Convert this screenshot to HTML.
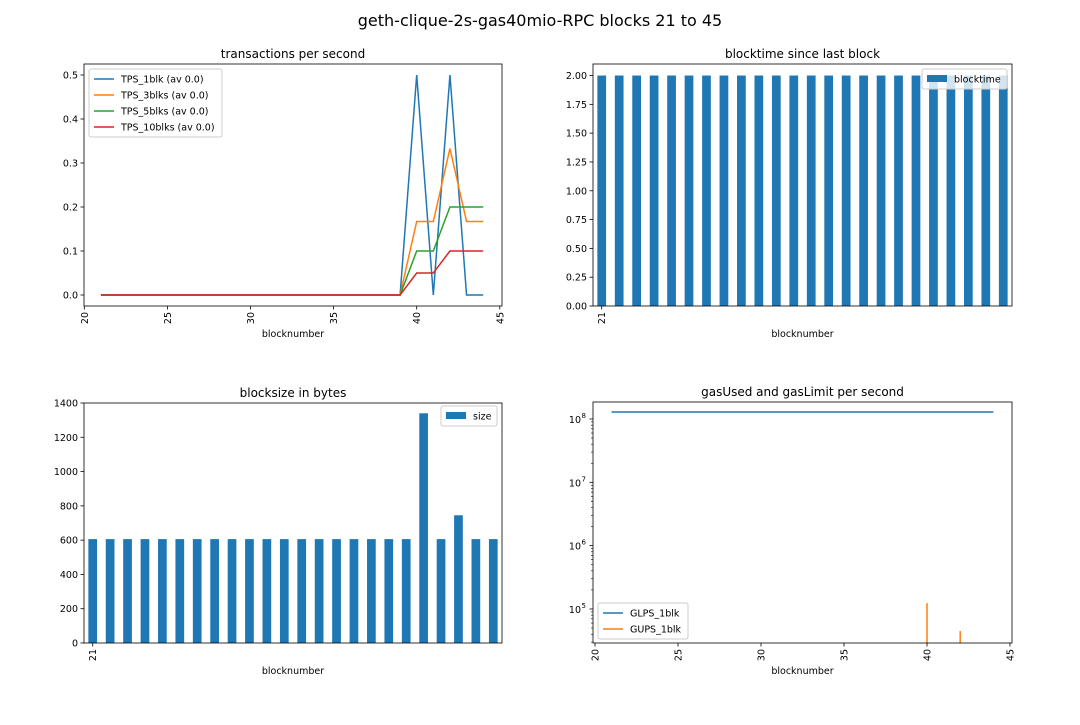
<!DOCTYPE html>
<html><head><meta charset="utf-8"><style>
body{margin:0;background:#fff;font-family:"Liberation Sans","DejaVu Sans",sans-serif}
svg text{font-family:"DejaVu Sans","Liberation Sans",sans-serif;fill:#000}
</style></head><body>
<svg id="fig" width="1080" height="720" xmlns="http://www.w3.org/2000/svg">
<rect width="1080" height="720" fill="#fff"/>
<text x="540" y="26" font-size="16" text-anchor="middle">geth-clique-2s-gas40mio-RPC blocks 21 to 45</text>
</svg>
<script>
const blocks=[21,22,23,24,25,26,27,28,29,30,31,32,33,34,35,36,37,38,39,40,41,42,43,44];
const tps1=[0,0,0,0,0,0,0,0,0,0,0,0,0,0,0,0,0,0,0,0.5,0,0.5,0,0];
const tps3=[0,0,0,0,0,0,0,0,0,0,0,0,0,0,0,0,0,0,0,0.167,0.167,0.333,0.167,0.167];
const tps5=[0,0,0,0,0,0,0,0,0,0,0,0,0,0,0,0,0,0,0,0.1,0.1,0.2,0.2,0.2];
const tps10=[0,0,0,0,0,0,0,0,0,0,0,0,0,0,0,0,0,0,0,0.05,0.05,0.1,0.1,0.1];
const blocktime=[2,2,2,2,2,2,2,2,2,2,2,2,2,2,2,2,2,2,2,2,2,2,2,2];
const sizes=[606,606,606,606,606,606,606,606,606,606,606,606,606,606,606,606,606,606,606,1340,606,745,606,606];
const glps=[1.29e8,1.29e8,1.29e8,1.29e8,1.29e8,1.29e8,1.29e8,1.29e8,1.29e8,1.29e8,1.29e8,1.29e8,1.29e8,1.29e8,1.29e8,1.29e8,1.29e8,1.29e8,1.29e8,1.29e8,1.29e8,1.29e8,1.29e8,1.29e8];
const gups=[0,0,0,0,0,0,0,0,0,0,0,0,0,0,0,0,0,0,0,124000,0,45000,0,0];
const xTicks=[20,25,30,35,40,45];
const tpsTicks=[0,0.1,0.2,0.3,0.4,0.5];
const btTicks=[0,0.25,0.5,0.75,1,1.25,1.5,1.75,2];
const sizeTicks=[0,200,400,600,800,1000,1200,1400];
const logTicks=[5,6,7,8];
const C=['#1f77b4','#ff7f0e','#2ca02c','#d62728'];
const svg=document.getElementById('fig');
const NS='http://www.w3.org/2000/svg';
const FS=9.5;
function el(t,a,p){const e=document.createElementNS(NS,t);for(const k in a)e.setAttribute(k,a[k]);(p||svg).appendChild(e);return e;}
function txt(s,a,p){const e=el('text',a,p);e.textContent=s;return e;}
function axes(name,x0,y0,x1,y1,title){
 const g=el('g',{});
 
 
 const t=txt(title,{x:(x0+x1)/2,y:y0-6,'font-size':12,'text-anchor':'middle'},g);
 
 
 const xl=txt('blocknumber',{x:(x0+x1)/2,y:y1+31,'font-size':FS,'text-anchor':'middle'},g);
 
 
 return g;}
function frame(g,x0,y0,x1,y1){el('rect',{x:x0,y:y0,width:x1-x0,height:y1-y0,fill:'none',stroke:'#000','stroke-width':0.8},g);}
function yTick(g,x0,y,label){el('line',{x1:x0-3.5,x2:x0,y1:y,y2:y,stroke:'#000','stroke-width':0.8},g);
 const t=txt(label,{x:x0-6,y:y+3.5,'font-size':FS,'text-anchor':'end'},g);
 
 }
function xTickRot(g,x,y1,label){el('line',{x1:x,x2:x,y1:y1,y2:y1+3.5,stroke:'#000','stroke-width':0.8},g);
 const t=txt(label,{x:0,y:0,'font-size':FS,'text-anchor':'end',transform:`translate(${x+3.5},${y1+6}) rotate(-90)`},g);
 
 }
function legend(g,x,y,w,items,type){
 const lg=el('g',{},g);
 
 
 el('rect',{x:x,y:y,width:w,height:items.length*16+4,rx:2,fill:'#fff','fill-opacity':0.8,stroke:'#ccc'},lg);
 items.forEach((it,i)=>{const yy=y+10+i*16;
  if(type==='bar')el('rect',{x:x+5,y:yy-4,width:20,height:7,fill:it[1]},lg);
  else el('line',{x1:x+5,x2:x+25,y1:yy,y2:yy,stroke:it[1],'stroke-width':1.5},lg);
  const t=txt(it[0],{x:x+32,y:yy+3.5,'font-size':FS},lg);
  
  });}
// TL
(function(){const x0=84,y0=64,x1=502,y1=306;const g=axes('tps-chart',x0,y0,x1,y1,'transactions per second');
 const xs=v=>84.3+(v-20)*16.62,ys=v=>y1-(v+0.025)/0.55*(y1-y0);
 [tps1,tps3,tps5,tps10].forEach((s,k)=>{const p=el('polyline',{points:s.map((v,i)=>xs(blocks[i])+','+ys(v)).join(' '),fill:'none',stroke:C[k],'stroke-width':1.5},g);
  
  });
 frame(g,x0,y0,x1,y1);
 tpsTicks.forEach(v=>yTick(g,x0,ys(v),v.toFixed(1)));xTicks.forEach(v=>xTickRot(g,xs(v),y1,String(v)));
 legend(g,x0+5,y0+5,133,[['TPS_1blk (av 0.0)',C[0]],['TPS_3blks (av 0.0)',C[1]],['TPS_5blks (av 0.0)',C[2]],['TPS_10blks (av 0.0)',C[3]]]);})();
// TR
(function(){const x0=593,y0=64,x1=1012,y1=306;const g=axes('blocktime-chart',x0,y0,x1,y1,'blocktime since last block');
 const n=blocktime.length,bw=(x1-x0)/n,ys=v=>y1-v/2.1*(y1-y0);
 blocktime.forEach((v,i)=>{const r=el('rect',{x:x0+bw*(i+0.25),y:ys(v),width:bw*0.5,height:y1-ys(v),fill:C[0]},g);
  
  });
 frame(g,x0,y0,x1,y1);
 btTicks.forEach(v=>yTick(g,x0,ys(v),v.toFixed(2)));xTickRot(g,x0+bw*0.5,y1,String(blocks[0]));
 legend(g,922,69,85,[['blocktime',C[0]]],'bar');})();
// BL
(function(){const x0=84,y0=403,x1=502,y1=643;const g=axes('blocksize-chart',x0,y0,x1,y1,'blocksize in bytes');
 const n=sizes.length,bw=(x1-x0)/n,ys=v=>y1-v/1400*(y1-y0);
 sizes.forEach((v,i)=>{const r=el('rect',{x:x0+bw*(i+0.25),y:ys(v),width:bw*0.5,height:y1-ys(v),fill:C[0]},g);
  
  });
 frame(g,x0,y0,x1,y1);
 sizeTicks.forEach(v=>yTick(g,x0,ys(v),String(v)));xTickRot(g,x0+bw*0.5,y1,String(blocks[0]));
 legend(g,441,406,56,[['size',C[0]]],'bar');})();
// BR
(function(){const x0=593,y0=402,x1=1012,y1=643;const g=axes('gas-chart',x0,y0,x1,y1,'gasUsed and gasLimit per second');
 const lo=4.463,hi=8.268;const xs=v=>595+(v-20)*16.6,ys=v=>y1-(Math.log10(v)-lo)/(hi-lo)*(y1-y0);
 const p=el('polyline',{points:glps.map((v,i)=>xs(blocks[i])+','+ys(v)).join(' '),fill:'none',stroke:C[0],'stroke-width':1.5},g);
 
 
 gups.forEach((v,i)=>{if(v>0){const l=el('line',{x1:xs(blocks[i]),x2:xs(blocks[i]),y1:ys(v),y2:y1,stroke:C[1],'stroke-width':1.5},g);
  
  }});
 frame(g,x0,y0,x1,y1);
 for(let d=4;d<=8;d++)for(let m=2;m<=9;m++){const v=Math.log10(m)+d;if(v>lo&&v<hi){const y=y1-(v-lo)/(hi-lo)*(y1-y0);el('line',{x1:x0-2,x2:x0,y1:y,y2:y,stroke:'#000','stroke-width':0.6},g);}}
 logTicks.forEach(d=>{const y=y1-(d-lo)/(hi-lo)*(y1-y0);el('line',{x1:x0-3.5,x2:x0,y1:y,y2:y,stroke:'#000','stroke-width':0.8},g);
  const t=txt('10',{x:x0-12,y:y+4,'font-size':FS,'text-anchor':'end'},g);
  
  
  txt(String(d),{x:x0-11.5,y:y-1,'font-size':7},g);});
 xTicks.forEach(v=>xTickRot(g,xs(v),y1,String(v)));
 legend(g,598,603,90,[['GLPS_1blk',C[0]],['GUPS_1blk',C[1]]]);})();
</script>
</body></html>
